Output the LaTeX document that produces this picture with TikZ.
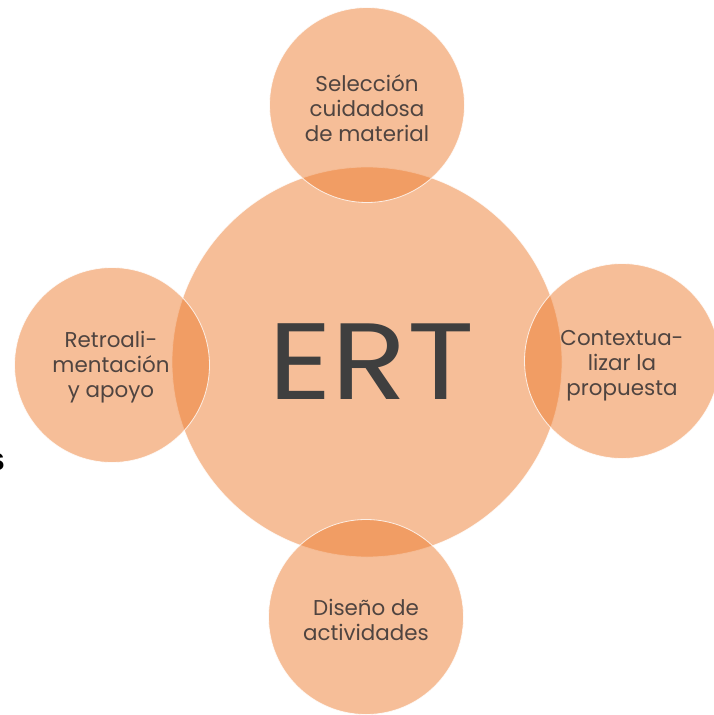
\documentclass[tikz,border=0pt]{standalone}
\usepackage{fontspec}
\setmainfont{Poppins}
\newfontfamily\sfont{Liberation Sans}
\begin{document}
\begin{tikzpicture}[x=1bp,y=-1bp,
  bub/.style={circle,fill=orange0,fill opacity=0.5,draw=white,draw opacity=0.8,line width=0.8bp,inner sep=0pt},
  lbl/.style={text=txt,inner sep=0pt,align=center,font=\fontsize{21.5}{25}\selectfont}]
\definecolor{orange0}{HTML}{ED7D31}
\definecolor{txt}{HTML}{4F4440}
\definecolor{ertc}{HTML}{3F3F3F}
\useasboundingbox (0,0) rectangle (714,715);
\node[bub,minimum size=390bp] (c) at (367,362) {};
\node[bub,minimum size=195bp] (t) at (367,105) {};
\node[bub,minimum size=195bp] (l) at (112,365) {};
\node[bub,minimum size=195bp] (r) at (622,361) {};
\node[bub,minimum size=195bp] (b) at (366,617) {};
\node[text=ertc,inner sep=0pt,font=\fontsize{109}{109}\selectfont,anchor=base] (ert) at (371.5,399) {\scalebox{1.145}[1]{ERT}};
\node[lbl] (tt) at (367,108) {Selección\\cuidadosa\\de material};
\node[lbl] (lt) at (111,367) {Retroali-\\mentación\\y apoyo};
\node[lbl] (rt) at (622,366) {Contextua-\\lizar la\\propuesta};
\node[lbl] (bt) at (366,620) {Diseño de\\actividades};
\node[text=black,inner sep=0pt,font=\sfont\bfseries\fontsize{32}{32}\selectfont,anchor=base east] (s) at (5,470) {s};
\end{tikzpicture}
\end{document}
